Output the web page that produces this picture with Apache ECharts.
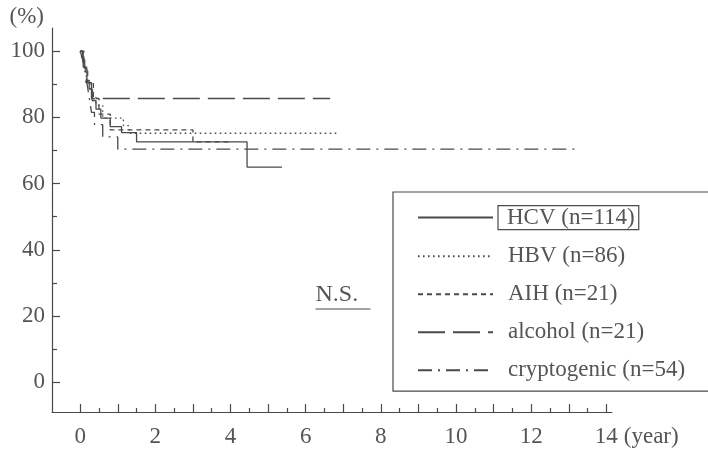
<!DOCTYPE html>
<html>
<head>
<meta charset="utf-8">
<script src="https://cdn.jsdelivr.net/npm/echarts@6/dist/echarts.min.js"></script>
<style>
  html, body { margin: 0; padding: 0; background: #ffffff; }
  #chart { width: 708px; height: 452px; }
</style>
</head>
<body>
<div id="chart"></div>
<script>
// Cumulative survival (%) by aetiology, Kaplan-Meier style step curves
const seriesNames = ['HCV (n=114)', 'HBV (n=86)', 'AIH (n=21)', 'alcohol (n=21)', 'cryptogenic (n=54)'];

const hcvYears    = [0, 0.06, 0.12, 0.18, 0.24, 0.32, 0.42, 0.55, 0.8, 1.1, 1.5, 4.44, 5.37];
const hcvSurvival = [100, 97.4, 94.7, 91.2, 88.6, 85.1, 82.5, 79.8, 77.2, 75.4, 72.6, 65.0, 65.0];

const hbvYears    = [0, 0.05, 0.1, 0.15, 0.2, 0.26, 0.33, 0.42, 0.6, 1.15, 1.3, 6.85];
const hbvSurvival = [100, 97.7, 95.3, 93.0, 90.7, 88.4, 86.0, 83.7, 79.8, 77.5, 75.2, 75.2];

const aihYears    = [0, 0.1, 0.2, 0.35, 0.5, 0.8, 3.0, 4.0];
const aihSurvival = [100, 95.2, 90.5, 85.7, 81.0, 76.2, 72.6, 72.6];

const alcoholYears    = [0, 0.08, 0.15, 0.3, 6.65];
const alcoholSurvival = [100, 95.2, 90.5, 85.7, 85.7];

const cryptoYears    = [0, 0.05, 0.1, 0.15, 0.2, 0.25, 0.3, 0.38, 0.6, 1.0, 13.3];
const cryptoSurvival = [100, 98.1, 96.3, 92.6, 88.9, 85.2, 81.5, 77.8, 74.1, 70.4, 70.4];

const xTickLabels = [0, 2, 4, 6, 8, 10, 12, 14];
const yTickLabels = [0, 20, 40, 60, 80, 100];
const yMinorTicks = [10, 30, 50, 70, 90];
const significanceText = 'N.S.';

const pairs = (xs, ys) => xs.map((x, i) => [x, ys[i]]);
const range = (a, b, step) => { const r = []; for (let v = a; v <= b + 1e-9; v += step) r.push(+v.toFixed(2)); return r; };

const ink = '#4a4a4a';
const textInk = '#555555';
const serif = '"Liberation Serif", "DejaVu Serif", serif';
const fontSize = 23;

const lineStyles = [
  { type: 'solid' },
  { type: [1.6, 3.4] },
  { type: [5, 4] },
  { type: [27, 8] },
  { type: [14, 6, 2, 6] }
];
const dataSets = [
  pairs(hcvYears, hcvSurvival),
  pairs(hbvYears, hbvSurvival),
  pairs(aihYears, aihSurvival),
  pairs(alcoholYears, alcoholSurvival),
  pairs(cryptoYears, cryptoSurvival)
];

const xMin = -0.75, xMax = 14.15, yMin = -9, yMax = 107;

const chart = echarts.init(document.getElementById('chart'), null, { renderer: 'canvas' });

const option = {
  animation: false,
  backgroundColor: '#ffffff',
  textStyle: { fontFamily: serif, color: textInk },
  grid: { left: 52, right: 96, top: 28, bottom: 40, containLabel: false },
  xAxis: [
    {
      type: 'value', min: xMin, max: xMax,
      name: '(year)', nameLocation: 'end', nameGap: 6,
      nameTextStyle: { fontFamily: serif, fontSize: fontSize, color: textInk, align: 'left', verticalAlign: 'top', padding: [13, 0, 0, 0] },
      axisLine: { show: true, onZero: false, lineStyle: { color: ink, width: 1.2 } },
      axisTick: { show: true, inside: true, length: 8, lineStyle: { color: ink, width: 1.2 }, customValues: range(0, 14, 1) },
      axisLabel: { show: true, fontFamily: serif, fontSize: fontSize, color: textInk, margin: 13, customValues: xTickLabels },
      splitLine: { show: false }
    },
    {
      type: 'value', min: xMin, max: xMax, position: 'bottom',
      axisLine: { show: false, onZero: false },
      axisTick: { show: true, inside: true, length: 4, lineStyle: { color: ink, width: 1.2 }, customValues: range(0.5, 13.5, 1) },
      axisLabel: { show: false },
      splitLine: { show: false }
    }
  ],
  yAxis: [
    {
      type: 'value', min: yMin, max: yMax,
      name: '(%)', nameLocation: 'end', nameGap: 0,
      nameTextStyle: { fontFamily: serif, fontSize: fontSize, color: textInk, align: 'right', verticalAlign: 'bottom', padding: [0, 8, 0, 0] },
      axisLine: { show: true, onZero: false, lineStyle: { color: ink, width: 1.2 } },
      axisTick: { show: true, inside: true, length: 8, lineStyle: { color: ink, width: 1.2 }, customValues: yTickLabels },
      axisLabel: { show: true, fontFamily: serif, fontSize: fontSize, color: textInk, margin: 7, customValues: yTickLabels },
      splitLine: { show: false }
    },
    {
      type: 'value', min: yMin, max: yMax, position: 'left',
      axisLine: { show: false, onZero: false },
      axisTick: { show: true, inside: true, length: 5, lineStyle: { color: ink, width: 1.2 }, customValues: yMinorTicks },
      axisLabel: { show: false },
      splitLine: { show: false }
    }
  ],
  legend: {
    show: true,
    orient: 'vertical',
    left: 393, top: 192,
    padding: [13, 35, 9, 24],
    itemGap: 14,
    itemWidth: 75,
    itemHeight: 14,
    borderColor: ink,
    borderWidth: 1.2,
    itemStyle: { opacity: 0 },
    data: seriesNames,
    formatter: name => (name === seriesNames[0] ? '{b|' + name + '}' : '{n|' + name + '}'),
    textStyle: {
      fontFamily: serif, fontSize: fontSize, color: textInk, lineHeight: 24,
      rich: {
        n: { fontFamily: serif, fontSize: fontSize, color: textInk, lineHeight: 24, padding: [0, 0, 0, 10] },
        b: { fontFamily: serif, fontSize: fontSize, color: textInk, lineHeight: 24, padding: [1, 4, 0, 9], borderColor: ink, borderWidth: 1.2 }
      }
    }
  },
  graphic: [
    {
      type: 'group', left: 313, top: 283,
      children: [
        { type: 'text', style: { text: significanceText, font: '24px ' + serif, fill: textInk } },
        { type: 'line', shape: { x1: 0, y1: 26, x2: 55, y2: 26 }, style: { stroke: ink, lineWidth: 1.2 } }
      ]
    }
  ],
  series: seriesNames.map((name, i) => ({
    name,
    type: 'line',
    step: 'end',
    xAxisIndex: 0,
    yAxisIndex: 0,
    symbol: 'none',
    data: dataSets[i],
    lineStyle: Object.assign({ color: ink, width: 1.3 }, lineStyles[i]),
    itemStyle: { color: ink }
  }))
};

chart.setOption(option);
</script>
</body>
</html>
